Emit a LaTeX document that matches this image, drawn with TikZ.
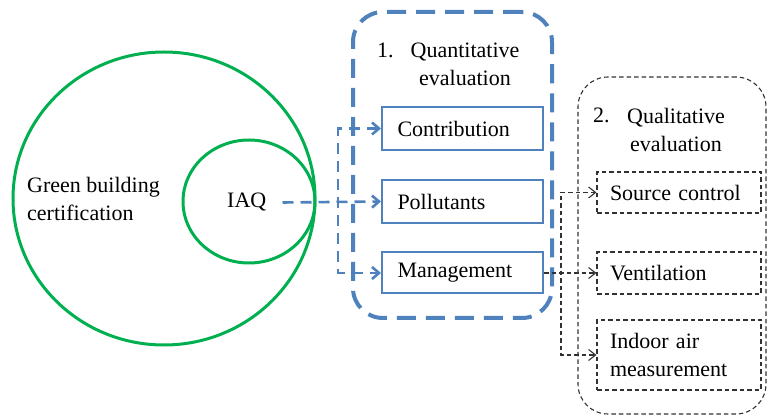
\documentclass[tikz,border=0pt]{standalone}
\usepackage{fontspec}
\setmainfont{Liberation Serif}
\usetikzlibrary{arrows.meta,shapes.geometric}
\definecolor{grn}{RGB}{0,176,80}
\definecolor{blu}{RGB}{79,129,189}
\definecolor{dgray}{RGB}{50,50,50}
\begin{document}
\begin{tikzpicture}[x=1pt,y=-1pt,
  every node/.style={font=\fontsize{22}{28}\selectfont, inner sep=0pt, text=black},
  ring/.style={draw=grn, line width=3pt, ellipse, inner sep=0pt},
  bbox/.style={draw=blu, line width=2pt, text width=130pt, align=left, inner xsep=15.5pt},
  gbox/.style={draw=dgray, line width=1.1pt, dash pattern=on 4.5pt off 3pt, text width=138pt, align=left, inner xsep=13pt},
  bconn/.style={draw=blu, line width=2.6pt, dash pattern=on 11pt off 7pt},
  gconn/.style={draw=dgray, line width=1.1pt, dash pattern=on 4.5pt off 3pt},
  btip/.tip={Straight Barb[length=7pt,width=12pt]},
  gtip/.tip={Straight Barb[length=7pt,width=11pt]}
]
\useasboundingbox (0,0) rectangle (769,419);

% group frames
\node[draw=blu, line width=4pt, dash pattern=on 19pt off 10pt, rounded corners=30pt,
      minimum width=199pt, minimum height=306pt] (qframe) at (452.5,165) {};
\node[draw=dgray, line width=1.1pt, dash pattern=on 4.5pt off 3pt, rounded corners=30pt,
      minimum width=188pt, minimum height=337pt] (lframe) at (672,245.5) {};

% circles
\node[ring, minimum width=302pt, minimum height=293pt] (gb) at (164,198.5) {};
\node[ring, minimum width=132pt, minimum height=123pt] (iaqc) at (249,201.5) {};
\node[anchor=north west, align=left] (gbt) at (27,177) {Green building\\certification};
\node[anchor=base west] (iaq) at (227,208) {IAQ};

% titles
\node[anchor=base west] (n1) at (377,58) {1.};
\node[anchor=north, align=center] (t1) at (465,43) {Quantitative\\evaluation};
\node[anchor=base west] (n2) at (593,123) {2.};
\node[anchor=north, align=center] (t2) at (676,108) {Qualitative\\evaluation};

% quantitative boxes
\node[bbox, minimum height=43pt] (cont) at (462.5,128.5) {Contribution};
\node[bbox, minimum height=43pt] (pol) at (462.5,201.5) {Pollutants};
\node[bbox, minimum height=41pt] (man) at (462.5,273) {Management};

% qualitative boxes
\node[gbox, minimum height=41pt] (src) at (679,192.5) {Source control};
\node[gbox, minimum height=42pt] (vent) at (679,273) {Ventilation};
\node[gbox, minimum height=70pt] (ind) at (679,355) {Indoor air\\measurement};

% connectors
\coordinate (vx) at (338,0);
\coordinate (gx) at (561,0);
\draw[bconn, -btip] ([xshift=16pt]iaq.east) -- (pol.west);
\draw[bconn, btip-btip] (cont.west) -| (vx |- pol.west) |- (man.west);
\draw[gconn, -gtip] (man.east) -- (vent.west);
\draw[gconn, gtip-gtip] (src.west) -| (gx |- vent.west) |- (ind.west);
\end{tikzpicture}
\end{document}
